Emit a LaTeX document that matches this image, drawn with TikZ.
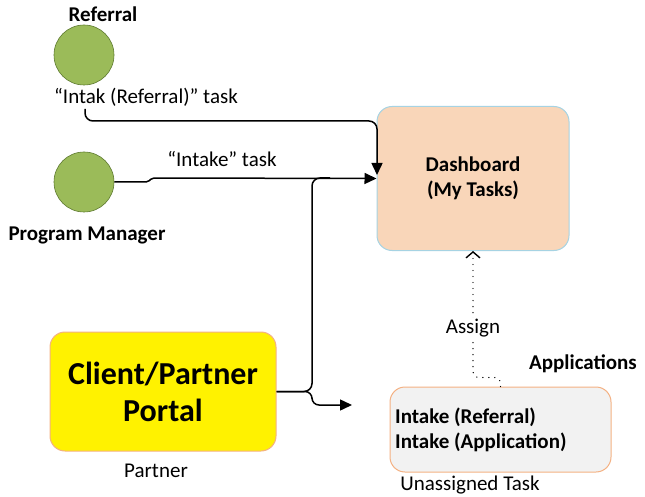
\documentclass[tikz,border=0pt]{standalone}
\usepackage{fontspec}
\setmainfont{Carlito}
\usetikzlibrary{arrows.meta}
\definecolor{leaf}{HTML}{9BBB59}
\definecolor{leafline}{HTML}{5E7A30}
\definecolor{peach}{HTML}{F9D6B9}
\definecolor{skyline}{HTML}{A6D3E3}
\definecolor{orangeline}{HTML}{F4B183}
\definecolor{paleg}{HTML}{F2F2F2}
\begin{document}
\begin{tikzpicture}[x=1pt,y=-1pt,
  actor/.style={circle, fill=leaf, draw=leafline, line width=0.6pt, minimum size=60pt, inner sep=0pt},
  lbl/.style={font=\fontsize{21}{25}\selectfont, inner sep=1pt},
  blbl/.style={font=\fontsize{21}{25}\selectfont\bfseries, inner sep=1pt},
  box/.style={rounded corners=15pt, line width=1pt},
  conn/.style={line width=1.5pt, rounded corners=8pt},
  tip/.style={-{Triangle[length=12pt,width=11pt]}},
  dotconn/.style={line width=1.4pt, dash pattern=on 0.01pt off 6pt, line cap=round, rounded corners=6pt,
     -{Straight Barb[length=6pt,width=14pt,line width=1.4pt]}}
]
\useasboundingbox (0,0) rectangle (645,497);

% actors
\node[actor] (ref) at (84,55) {};
\node[actor] (pm) at (84,182) {};
\node[blbl] (refl) at (103,14) {Referral};
\node[blbl] (pml) at (87,235) {Program Manager};
\node[lbl, fill=white] (reft) at (146,97) {“Intak (Referral)” task};
\node[lbl] (pmt) at (222,159) {“Intake” task};

% boxes
\node[box, fill=peach, draw=skyline, minimum width=192pt, minimum height=144pt,
      align=center, font=\fontsize{21}{25}\selectfont\bfseries] (dash) at (473,178.5) {Dashboard\\(My Tasks)};
\node[box, fill=yellow, draw=orangeline, minimum width=226pt, minimum height=119pt,
      align=center, font=\fontsize{32}{37}\selectfont\bfseries] (port) at (163,391.5) {Client/Partner\\Portal};
\node[box, fill=paleg, draw=orangeline, minimum width=221pt, minimum height=85pt] (ubox) at (500.5,429.5) {};
\node[blbl, align=left, anchor=west] (utext) at (394,430) {Intake (Referral)\\Intake (Application)};

\node[lbl] (partl) at (156,471) {Partner};
\node[lbl] (unl) at (470,485) {Unassigned Task};
\node[blbl] (appl) at (583,364) {Applications};

% connectors
\coordinate (s1) at (85,109);
\coordinate (k1) at (377,121);
\coordinate (t1) at (377,175);
\draw[conn, tip] (s1) |- (k1) -- (t1);

\coordinate (j1) at (148,182);
\coordinate (j2) at (152,178);
\draw[line width=1.5pt, rounded corners=2pt, tip] (pm.east) -- (j1) -- (j2) -- (dash.west);

\coordinate (v1) at (312,178);
\coordinate (m1) at (330,178);
\draw[conn] (port.east) -| (v1) -- (m1);

\coordinate (v2) at (312,405);
\coordinate (t3) at (352,405);
\draw[conn, rounded corners=7pt, tip] (port.east) -| (v2) -- (t3);

\draw[dotconn] (ubox.north) -- ++(0,-9) -| (dash.south);
\node[lbl, fill=white] (asg) at (473,328) {Assign};
\end{tikzpicture}
\end{document}
